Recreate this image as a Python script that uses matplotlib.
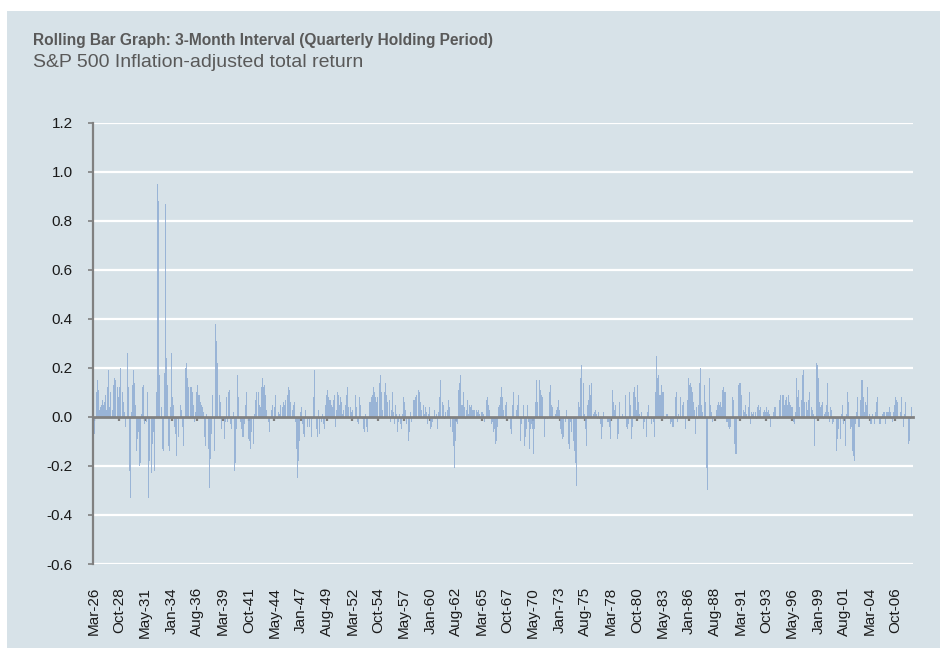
import matplotlib
matplotlib.use("Agg")
import matplotlib.pyplot as plt
from matplotlib.patches import Rectangle
import numpy as np

# ---- data: rolling 3-month real total return, monthly from Mar-1926 ----
ret_1920s = [-0.04, -0.07, -0.01, 0.10, 0.14, 0.15, 0.11, 0.03, 0.04, 0.05,
             0.02, 0.07, 0.05, 0.06, 0.09, 0.03, 0.10, 0.12, 0.19, 0.04, 0.10, 0.13,
             0.05, 0.03, 0.13, 0.16, 0.15, -0.03, 0.04, 0.12, 0.08, 0.12, 0.20, 0.13,
             0.21, 0.10, 0.06, 0.02, -0.04, 0.09, 0.14, 0.26, 0.12, -0.22, -0.33, -0.27]
ret_1930s = [0.02, 0.13, 0.19, 0.14, 0.05, -0.15, -0.14, -0.09, -0.06, -0.20, -0.19, -0.15,
             0.01, 0.12, 0.13, -0.03, -0.24, -0.07, -0.02, 0.10, -0.33, -0.18, -0.28, -0.12,
             -0.23, -0.11, -0.06, -0.22, -0.43, -0.35, 0.10, 0.95, 0.88, 0.17, -0.17, -0.10,
             0.04, -0.13, -0.14, 0.18, 0.74, 0.87, 0.24, 0.13, -0.12, -0.14, -0.11, 0.04,
             0.26, 0.08, 0.05, -0.04, -0.10, -0.07, -0.16, -0.01, -0.08, 0.05, 0.02, 0.05,
             0.03, -0.04, -0.12, 0.02, 0.12, 0.20, 0.22, 0.16, 0.12, 0.13, 0.14, 0.12,
             0.12, 0.10, 0.05, -0.04, -0.02, 0.02, 0.10, 0.13, 0.09, 0.10, 0.09, 0.06,
             0.05, 0.04, 0.02, -0.06, -0.08, -0.12, 0.01, -0.01, -0.13, -0.22, -0.29, -0.17,
             -0.07, 0.09, -0.17, -0.08, -0.14, 0.38, 0.31, 0.22, 0.05, 0.07, 0.09, 0.06,
             -0.05, -0.01, -0.14, -0.11, -0.09, -0.02, 0.08, -0.02, 0.19, 0.10, 0.11, -0.03]
ret_1940s = [-0.05, -0.01, 0.00, 0.02, -0.22, -0.19, -0.05, 0.17, 0.12, 0.08, 0.00, -0.02,
             -0.05, -0.08, -0.04, -0.08, -0.03, 0.05, 0.10, 0.06, -0.01, -0.09, -0.10, -0.13,
             -0.06, -0.09, -0.12, -0.11, 0.01, 0.07, 0.10, 0.04, 0.05, 0.10, 0.05, 0.04,
             0.12, 0.18, 0.16, 0.12, 0.13, 0.09, 0.03, -0.03, 0.00, -0.02, -0.06, 0.00,
             0.03, 0.04, 0.05, 0.00, 0.04, 0.09, 0.05, 0.01, -0.01, 0.02, 0.01, 0.05,
             0.08, 0.13, 0.04, 0.06, 0.05, 0.07, -0.01, 0.03, 0.09, 0.12, 0.11, 0.06,
             0.08, 0.00, 0.03, 0.05, 0.06, -0.02, -0.07, -0.13, -0.25, -0.18, -0.10, 0.02,
             0.02, 0.04, -0.03, -0.07, -0.08, 0.03, 0.08, 0.00, -0.04, -0.01, -0.04, -0.03,
             -0.06, -0.08, -0.01, 0.08, 0.19, 0.09, -0.02, -0.05, -0.08, 0.03, -0.07, -0.03,
             0.04, -0.02, 0.01, -0.03, -0.05, -0.06, 0.05, 0.09, 0.11, 0.08, 0.07, 0.10]
ret_1950s = [0.07, 0.05, 0.04, 0.07, 0.09, 0.01, -0.04, 0.03, 0.10, 0.09, 0.05, 0.04,
             0.08, 0.06, 0.01, 0.03, 0.00, -0.03, 0.05, 0.09, 0.12, 0.04, -0.02, 0.02,
             0.04, 0.02, 0.03, -0.01, 0.02, 0.05, 0.09, 0.04, -0.02, -0.03, 0.04, 0.08,
             0.05, 0.00, -0.01, -0.05, -0.04, -0.06, 0.01, -0.04, -0.06, 0.00, 0.04, 0.06,
             0.06, 0.08, 0.09, 0.12, 0.12, 0.10, 0.08, 0.06, 0.08, 0.03, 0.09, 0.14,
             0.17, 0.10, 0.03, 0.05, 0.04, 0.10, 0.14, 0.09, 0.06, -0.02, 0.06, 0.07,
             -0.02, 0.03, 0.10, 0.07, 0.02, -0.03, 0.05, 0.01, -0.06, -0.04, -0.02, 0.01,
             -0.03, -0.05, 0.01, 0.05, 0.08, 0.06, 0.03, -0.03, -0.08, -0.14, -0.10, -0.06,
             0.02, -0.02, 0.05, 0.05, 0.07, 0.07, 0.08, 0.09, 0.08, 0.10, 0.11, 0.10,
             0.06, 0.03, 0.02, 0.04, 0.05, 0.01, 0.04, 0.02, -0.04, -0.03, 0.01, 0.04]
ret_1960s = [-0.05, -0.04, -0.06, -0.02, 0.00, 0.03, -0.01, 0.01, -0.05, -0.05, 0.02, 0.08,
             0.15, 0.14, 0.11, 0.06, 0.05, -0.01, 0.02, 0.05, 0.01, 0.03, 0.07, 0.04,
             -0.04, 0.00, -0.01, -0.06, -0.12, -0.21, -0.10, 0.00, -0.02, -0.03, 0.11, 0.14,
             0.17, 0.03, 0.05, 0.05, 0.10, 0.04, -0.01, 0.02, 0.03, 0.07, 0.01, 0.05,
             0.04, 0.06, 0.05, 0.03, 0.03, 0.03, 0.05, 0.02, 0.03, 0.02, 0.03, 0.01,
             0.03, 0.04, 0.02, 0.02, 0.01, -0.02, -0.04, -0.01, 0.07, 0.08, 0.05, 0.03,
             0.00, 0.00, -0.03, -0.02, -0.06, -0.05, -0.08, -0.11, -0.10, -0.04, 0.04, 0.05,
             0.08, 0.08, 0.12, 0.08, 0.03, 0.00, 0.01, 0.05, 0.06, -0.01, 0.00, 0.00,
             -0.02, -0.05, -0.07, 0.05, 0.10, 0.10, 0.00, 0.00, 0.03, 0.05, 0.09, 0.01,
             -0.01, -0.10, -0.03, 0.00, 0.05, -0.04, -0.12, -0.08, -0.05, 0.05, -0.02, -0.02]
ret_1970s = [-0.13, -0.05, -0.03, -0.05, -0.15, -0.19, -0.05, 0.06, 0.15, 0.06, 0.07, 0.09,
             0.15, 0.11, 0.09, 0.08, 0.03, -0.02, -0.08, -0.01, 0.00, -0.01, -0.05, 0.04,
             0.10, 0.13, 0.05, 0.04, 0.03, 0.00, 0.00, 0.01, 0.03, 0.04, 0.05, 0.07,
             0.03, -0.05, -0.07, -0.09, -0.07, -0.08, 0.00, -0.02, 0.03, -0.01, -0.09, -0.11,
             -0.13, -0.02, -0.06, -0.09, -0.11, -0.10, -0.14, -0.19, -0.28, -0.09, -0.05, 0.06,
             0.04, 0.16, 0.21, 0.13, 0.11, 0.14, 0.01, -0.05, -0.12, 0.00, 0.05, 0.07,
             0.13, 0.09, 0.14, 0.01, 0.00, 0.01, 0.02, 0.03, 0.01, -0.01, -0.01, 0.02,
             -0.01, -0.03, -0.09, -0.04, -0.04, 0.02, 0.00, 0.00, -0.04, -0.07, -0.02, -0.02,
             -0.04, -0.09, -0.07, 0.08, 0.11, 0.06, 0.03, 0.05, 0.06, -0.08, -0.09, -0.07,
             0.06, 0.00, 0.04, 0.00, 0.01, 0.00, 0.00, 0.09, 0.04, -0.04, -0.05, -0.03]
ret_1980s = [0.10, 0.05, -0.07, -0.09, -0.04, 0.10, 0.12, 0.08, 0.08, 0.03, 0.13, 0.06,
             0.01, -0.08, -0.01, 0.02, 0.00, -0.05, -0.02, -0.08, -0.12, -0.08, 0.02, 0.05,
             -0.01, -0.10, -0.08, -0.03, -0.01, -0.02, -0.08, 0.07, 0.10, 0.25, 0.16, 0.17,
             0.09, 0.07, 0.09, 0.13, 0.10, 0.10, -0.01, 0.01, -0.01, 0.01, 0.01, -0.01,
             0.00, -0.06, -0.03, -0.02, -0.04, -0.04, -0.06, 0.11, 0.08, 0.10, -0.02, 0.01,
             0.08, 0.11, 0.08, 0.00, 0.05, 0.06, 0.06, 0.00, -0.05, 0.00, 0.07, 0.16,
             0.12, 0.13, 0.14, 0.12, 0.10, 0.06, 0.01, 0.03, -0.07, 0.04, -0.01, 0.05,
             0.12, 0.14, 0.20, 0.05, 0.02, 0.04, 0.10, 0.13, 0.06, -0.21, -0.30, -0.23,
             0.02, 0.16, 0.05, 0.02, -0.02, 0.06, 0.04, 0.00, -0.01, 0.03, 0.05, 0.02,
             0.06, 0.05, 0.06, 0.04, 0.11, 0.08, 0.12, 0.10, 0.10, -0.02, -0.02, 0.01]
ret_1990s = [-0.04, -0.05, -0.04, 0.00, 0.08, 0.05, 0.07, -0.11, -0.15, -0.15, -0.01, 0.07,
             0.13, 0.14, 0.14, 0.09, 0.06, -0.01, 0.03, 0.02, 0.05, 0.01, -0.05, 0.08,
             0.04, 0.10, -0.03, 0.02, 0.01, 0.01, 0.02, 0.00, 0.02, -0.01, 0.04, 0.04,
             0.05, 0.03, 0.04, 0.00, 0.02, 0.00, 0.02, 0.03, 0.02, 0.04, 0.00, 0.02,
             0.03, 0.01, -0.04, -0.06, -0.02, 0.00, 0.02, 0.04, 0.04, 0.03, -0.05, -0.01,
             0.00, 0.07, 0.09, 0.09, 0.09, 0.09, 0.09, 0.05, 0.07, 0.03, 0.08, 0.05,
             0.09, 0.06, 0.05, 0.03, 0.04, 0.04, -0.02, -0.03, 0.02, 0.10, 0.16, 0.08,
             0.11, 0.04, 0.02, 0.02, 0.07, 0.17, 0.19, 0.06, 0.07, -0.04, 0.06, 0.03,
             0.07, 0.10, 0.14, 0.13, 0.04, 0.03, 0.01, -0.12, -0.10, -0.02, 0.22, 0.21,
             0.16, 0.06, 0.05, 0.04, 0.05, 0.06, -0.01, 0.01, -0.07, 0.02, 0.05, 0.14]
ret_2000s = [0.02, -0.02, 0.01, 0.04, 0.03, -0.03, -0.02, 0.06, -0.02, -0.01, -0.14, -0.09,
             -0.05, -0.06, -0.13, -0.09, 0.01, 0.05, -0.03, -0.10, -0.15, -0.12, 0.01, 0.10,
             0.06, -0.03, -0.01, -0.05, -0.04, -0.14, -0.16, -0.14, -0.18, -0.03, 0.02, 0.08,
             -0.04, -0.11, -0.04, 0.07, 0.15, 0.15, 0.08, 0.04, 0.02, 0.06, 0.05, 0.12,
             0.07, 0.08, 0.01, -0.03, -0.03, 0.01, -0.01, -0.02, -0.03, 0.02, 0.06, 0.08,
             0.04, 0.02, -0.03, -0.03, -0.01, 0.01, 0.06, 0.02, 0.02, -0.03, 0.02, 0.02,
             0.06, 0.02, 0.04, 0.02, -0.01, -0.02, -0.03, 0.02, 0.05, 0.08, 0.07, 0.06,
             0.04, 0.00, 0.00, 0.02, 0.08, 0.05, -0.02, -0.04, 0.01, 0.06, 0.00, -0.05,
             -0.11, -0.11, -0.10, -0.01, 0.04, -0.06, -0.11]

tick_labels = ["Mar-26", "Oct-28", "May-31", "Jan-34", "Aug-36", "Mar-39", "Oct-41",
               "May-44", "Jan-47", "Aug-49", "Mar-52", "Oct-54", "May-57", "Jan-60",
               "Aug-62", "Mar-65", "Oct-67", "May-70", "Jan-73", "Aug-75", "Mar-78",
               "Oct-80", "May-83", "Jan-86", "Aug-88", "Mar-91", "Oct-93", "May-96",
               "Jan-99", "Aug-01", "Mar-04", "Oct-06"]
y_ticks = [-0.6, -0.4, -0.2, 0.0, 0.2, 0.4, 0.6, 0.8, 1.0, 1.2]

title = "Rolling Bar Graph: 3-Month Interval (Quarterly Holding Period)"
subtitle = "S&P 500 Inflation-adjusted total return"

# ---- build ----
values = np.array(ret_1920s + ret_1930s + ret_1940s + ret_1950s + ret_1960s
                  + ret_1970s + ret_1980s + ret_1990s + ret_2000s)
x = np.arange(len(values))

months = ["Jan", "Feb", "Mar", "Apr", "May", "Jun", "Jul", "Aug", "Sep", "Oct", "Nov", "Dec"]
def label_pos(lbl):
    m, y = lbl.split("-")
    yy = int(y)
    year = 2000 + yy if yy < 20 else 1900 + yy
    return (year - 1926) * 12 + months.index(m) - 2

tick_pos = [label_pos(l) for l in tick_labels]

BG = "#D7E2E8"
GRAY = "#808080"

plt.rcParams["font.family"] = ["Liberation Sans", "DejaVu Sans"]
fig = plt.figure(figsize=(9.4, 6.56), dpi=100)
fig.patch.set_facecolor("white")
fig.add_artist(Rectangle((7 / 940, 8 / 656), 933 / 940, 637 / 656,
                         transform=fig.transFigure, facecolor=BG, edgecolor="none", zorder=-10))

ax = fig.add_axes([93.3 / 940, 1 - 564 / 656, 820 / 940, (564 - 122.7) / 656])
ax.patch.set_visible(False)

ax.bar(x, values, width=0.9, color="#8FACD3", alpha=0.85, linewidth=0, zorder=3)

ax.set_xlim(-0.5, len(values) - 0.5)
ax.set_ylim(-0.6, 1.2)
ax.set_yticks(y_ticks)
ax.set_yticklabels([f"{v:.1f}" for v in y_ticks])
ax.yaxis.grid(True, color="white", linewidth=1.6, zorder=1)
ax.set_axisbelow(True)

for s in ["top", "right"]:
    ax.spines[s].set_visible(False)
ax.spines["left"].set_color(GRAY)
ax.spines["left"].set_linewidth(1.6)
ax.spines["left"].set_zorder(5)
ax.spines["bottom"].set_position(("data", 0))
ax.spines["bottom"].set_color(GRAY)
ax.spines["bottom"].set_linewidth(2.0)
ax.spines["bottom"].set_zorder(5)

ax.tick_params(axis="y", direction="out", length=3.4, width=1.2, color=GRAY,
               labelsize=11, labelcolor="#1a1a1a", pad=11.5)
ax.set_xticks(tick_pos)
ax.tick_params(axis="x", direction="out", length=3.2, width=1.6, color=GRAY,
               labelbottom=False)

sec = ax.secondary_xaxis(0.0)
sec.set_xticks(tick_pos)
sec.set_xticklabels(tick_labels, rotation=90)
sec.tick_params(axis="x", length=0, labelsize=11, labelcolor="#1a1a1a", pad=16.5)
sec.spines["bottom"].set_visible(False)

fig.text(33 / 940, 1 - 45 / 656, title, fontsize=11.2, fontweight="bold",
         color="#595959", va="baseline", ha="left")
fig.text(33 / 940, 1 - 67 / 656, subtitle, fontsize=14.0,
         color="#595959", va="baseline", ha="left")

fig.savefig("out.png", dpi=100, facecolor=fig.get_facecolor())
